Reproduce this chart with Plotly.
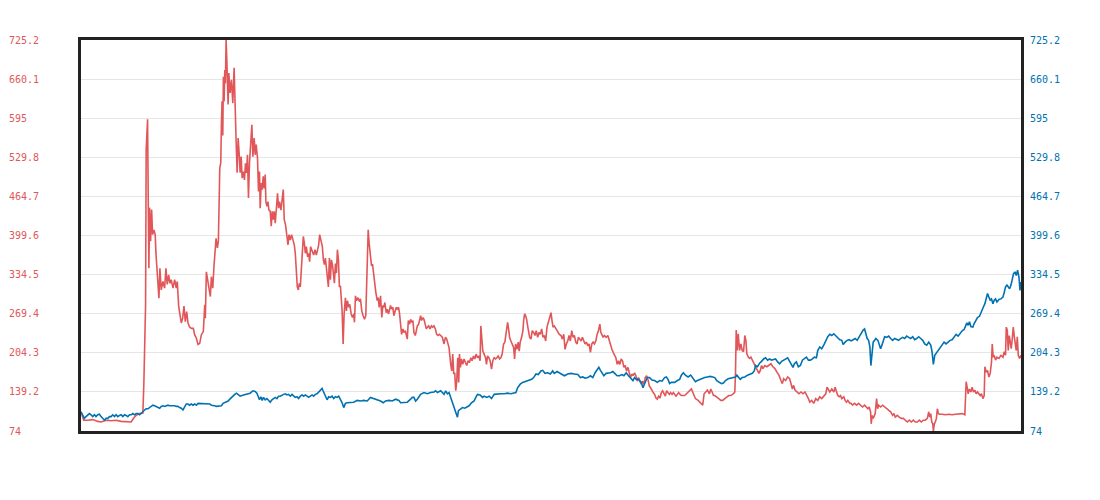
import plotly.graph_objects as go

# tick levels shared by both y axes
tick_vals = [74, 139.2, 204.3, 269.4, 334.5, 399.6, 464.7, 529.8, 595, 660.1, 725.2]
tick_text = ['74', '139.2', '204.3', '269.4', '334.5', '399.6', '464.7', '529.8', '595', '660.1', '725.2']

# red series (trading day, price)
red_day = [
    0.3, 3, 7, 12, 17, 20.3, 23.7, 27, 30.3, 35.3,
    40.3, 45.3, 50.3, 53, 55.3, 58.7, 62, 63, 64.7, 65.3,
    66.7, 67.3, 68, 68.7, 69.7, 70.7, 71.7, 73, 74.3, 75,
    76, 77, 78, 79, 80.3, 82, 83.7, 85, 86.3, 87.7,
    89, 90.3, 92, 93.7, 95.3, 96.3, 97.7, 99, 100.3, 101.7,
    103, 104.3, 105.7, 107, 108.3, 110.3, 112.3, 113.7, 115.3, 117,
    118.7, 120.3, 122.3, 123.7, 124.3, 125.3, 126.7, 128, 129.3, 130.3,
    131.7, 133, 134, 135, 136.3, 137.3, 138.7, 139.7, 140.3, 141,
    141.7, 142.3, 143, 143.7, 144.3, 145,
    145.7, 147, 147.7, 149, 150.3, 151.7, 153, 154, 155, 156,
    157, 158, 159, 160, 161, 162.3, 163.3, 164.3, 165.3, 166.3,
    167.3, 168.3, 169.7, 170.7, 171.7, 173, 174, 175, 176.3, 177.3,
    178.3, 179, 180, 181, 182, 183, 184, 184.7, 185.7, 186.7,
    187.7, 189, 190, 191, 192, 193, 194, 195, 196.3, 197.3,
    198.3, 199.7, 201, 202, 203, 204.3, 205.7, 206.7, 207.7, 209,
    210.3, 211.7, 213, 214, 215, 216, 217, 218, 219, 220,
    221, 222, 223, 224, 225, 226.3, 227.3, 228.3, 229.3, 230.3,
    231.3, 232.3, 233.7, 235, 236.3, 237.3, 238.3, 239.7, 241, 242,
    243, 244, 245, 246, 247, 248, 249, 250, 251, 252,
    253, 254, 255, 256, 257, 258,
    259, 260.7, 261.7, 262.7, 264, 265, 266, 267.3, 268.3, 269.7,
    271, 272.3, 273, 274, 275, 276.3, 277.7, 279, 280.3, 281.7,
    283, 284.3, 285.7, 286.7, 287.7, 289, 290, 291, 292.3, 293.3,
    294.3, 295.7, 296.7, 297.7, 299, 300.3, 301.3, 302.3, 303.3, 304.7,
    305.7, 307, 308, 309, 310, 311.3, 312.3, 313.3, 314.7, 315.7,
    317, 318, 319, 320, 321.3, 322.3, 323.7, 324.7, 325.7, 326.7,
    328, 329, 330.3, 331.3, 332.3, 333.7, 334.7, 335.7, 337, 338,
    339, 340, 341.3, 342.3, 343.7, 344.7, 345.7, 347, 348.3, 349.7,
    351, 352.3, 353.7, 355, 356.3, 357.7, 359, 360.7, 362.3, 363.7,
    365, 366.3, 367.3, 369, 370, 371, 372, 373, 374, 375,
    376, 377, 377.7, 378.7, 379.7, 381, 382.3, 383.7, 385, 386.3,
    387.7, 389, 390.3, 391.7, 393, 394.3, 395.7, 397, 398.3, 399,
    400, 401, 402.3, 403.7, 404.7, 405.7, 407, 408.3, 409.7, 411,
    412.3, 413.7, 415, 416.3, 417.7, 419, 420.3, 421.7, 423, 424.3,
    425.7, 426.7, 427.7, 429, 430.3, 431.7, 432.7, 433.7, 435, 436.3,
    437.3, 438.3, 439.7, 441, 441.7, 442.7, 443.7, 444.7, 445.7, 446.7,
    447.7, 449, 450.3, 451.7, 453, 454.3, 455.7, 457, 458.3, 459.7,
    461, 462.3, 463.7, 465, 466.3, 467.7, 469, 470, 471, 472.3,
    474, 475.7, 477.3, 479, 480.3, 481.7, 483, 484.3, 485.7, 487,
    488.3, 489.7, 491, 492.3, 493.7, 495, 496.3, 497.7, 499, 500.3,
    501.7, 503, 504.3, 505.7, 507, 508.3, 509.7, 511, 512.3, 513.7,
    515, 516.3, 517.7, 518.7, 519.7, 521, 522.3, 524, 525.7, 527,
    528.3, 529.7, 531, 532.3, 533.7, 535, 536.3, 537.7, 539, 540.3,
    541.7, 543, 544.3, 545.7, 547, 548.3, 549.7, 551, 552.3, 553.7,
    555, 556.3, 557.7, 559, 560.3, 561.7, 563, 564.3, 565.7, 567,
    568.3, 569.7, 571, 572.3, 573.7, 575, 576.3, 577.7, 579, 580.3,
    581.7, 583, 584.3, 585.7, 587, 588.3, 589.7, 591, 592.3, 593.7,
    595, 596.3, 597.7,
    599, 602.3, 605.7, 609, 611, 613, 615.7, 618.3, 620.3, 621.7,
    623, 625, 627, 628.3, 629.7, 631, 632.3, 634.3, 636.3, 638.3,
    640.3, 642.3, 644.3, 646.3, 648.3, 651, 652.3, 653, 653.7, 654.7,
    655.7, 657, 658.3, 659.7, 661, 662.3, 663.3, 664.3, 665.7, 667,
    668.3, 669.7, 671, 672.3, 673.7, 675, 676.3, 677.7, 679, 680.3,
    682.3, 684.3, 686.3, 688.3, 690.3, 692.3, 694.3, 696.3, 698.3, 699.7,
    701, 703, 705, 707, 708.3, 709.7, 711, 712.3, 714.3, 716.3,
    718.3, 720.3, 722.3, 724.3, 725.7, 727, 729, 731, 733, 735,
    737, 739, 741, 743, 744.3, 745.7, 747, 749, 751, 752.3,
    753.7, 755, 756.3, 757.7, 759, 761, 762.3, 763.7, 765, 767,
    768.3, 769.7, 771.7, 773.7, 775.7, 777.7, 779.7, 781.7, 783.7, 785,
    786.3, 787.7, 788.3, 789.3, 790.3, 791.3, 792.3, 793.7, 794.7, 795.7,
    797.7, 799.7, 801.7, 803.7, 805.7, 807.7, 809.7, 811, 812.3, 814.3,
    816.3, 818.3, 820.3, 822.3, 824.3, 826.3, 828.3, 830.3, 832.3, 834.3,
    836.3, 838.3, 840.3, 842.3, 844.3, 845.7, 846.7, 847.7, 848.7, 849.7,
    850.3, 851.3, 852.3, 853.3, 854.3, 855.3, 856.3, 859, 862.3, 865.7,
    869, 872.3, 875.7, 879, 881.7, 883, 884, 885, 886.3, 887.7,
    889, 890.3, 891.7, 893, 894.3, 895.7, 897, 898.3, 899.7, 901,
    901.7, 903, 904.3, 905.7, 907, 908.3, 909, 910, 911, 912.3,
    913.7, 915.7, 917.7, 919.7, 921, 922.3, 923, 924, 925, 926,
    927, 928, 929, 930, 931, 932, 933, 934, 935, 936.3,
    937.7,
]
red_price = [
    106, 92, 92, 93, 90, 89, 91, 92, 91, 92,
    90, 90, 89, 96, 100, 103, 104, 154, 284, 543,
    593, 468, 345, 446, 390, 443, 401, 409, 401, 371,
    345, 312, 295, 345, 309, 323, 312, 345, 318, 334,
    320, 326, 312, 326, 312, 323, 282, 268, 254, 262,
    282, 256, 273, 254, 248, 245, 245, 234, 229, 218,
    220, 234, 240, 284, 262, 339, 323, 306, 298, 331,
    312, 351, 368, 395, 379, 390, 512, 521, 584, 623,
    566, 664, 623, 675, 653, 725.2,
    693, 618, 670, 637, 659, 620, 679, 581, 556, 504,
    562, 537, 504, 531, 495, 506, 492, 520, 504, 534,
    462, 520, 554, 584, 531, 562, 534, 551, 529, 473,
    506, 445, 487, 476, 498, 478, 501, 456, 448, 456,
    442, 440, 415, 440, 426, 440, 420, 437, 470, 445,
    456, 442, 459, 476, 426, 417, 398, 384, 401, 392,
    401, 392, 384, 370, 348, 314, 309, 320, 314, 342,
    353, 398, 387, 370, 381, 364, 370, 356, 381, 376,
    373, 367, 376, 367, 376, 384, 401, 392, 381, 359,
    351, 362, 345, 337, 314, 362, 326, 359, 351, 337,
    320, 353, 337, 376, 359, 314,
    316, 274, 219, 269, 296, 274, 291, 280, 285, 269,
    263, 269, 255, 299, 291, 296, 291, 294, 274, 266,
    260, 266, 330, 409, 386, 358, 349, 352, 330, 322,
    305, 291, 296, 280, 299, 263, 283, 280, 288, 271,
    277, 269, 274, 283, 277, 280, 266, 274, 280, 277,
    280, 269, 244, 235, 244, 238, 241, 233, 227, 258,
    252, 260, 255, 258, 238, 233, 241, 249, 252, 260,
    266, 258, 263, 260, 249, 244, 247, 249, 244, 249,
    247, 249, 244, 235, 233, 235, 233, 230, 219, 230,
    227, 216, 213, 185, 174, 202, 169, 171, 141, 157,
    196, 155, 202, 180, 194, 185, 194, 188, 183, 191,
    188, 196, 191, 199, 194, 202, 196, 199, 191, 249,
    227, 207, 202, 196, 185, 199, 196, 191, 177, 191,
    196, 194, 196, 199, 194, 196, 202, 219, 222, 238,
    255, 244, 230, 224, 219, 213, 194, 219, 210, 222,
    207, 222, 230, 241, 258, 269, 266, 260, 249, 235,
    230, 227, 241, 238, 233, 241, 230, 238, 235, 244,
    230, 233, 224, 247, 255, 266, 271, 258, 247, 249,
    244, 238, 235, 233, 227, 235, 210, 219, 224, 233,
    224, 241, 230, 233, 222, 219, 230, 227, 224, 230,
    222, 219, 222, 216, 219, 205, 219, 222, 219, 224,
    235, 241, 252, 238, 235, 230, 233, 230, 233, 224,
    219, 210, 205, 199, 196, 185, 191, 185, 194, 191,
    180, 183, 174, 180, 171, 163, 169, 166, 171, 166,
    157, 163, 157, 152, 157, 152, 163, 166, 160, 149,
    146, 141, 138, 135, 129, 127, 132, 129, 138, 141,
    135, 132, 141, 138, 135, 138, 135, 138, 135, 132,
    135, 138, 135,
    133, 133, 139, 144, 136, 128, 125, 120, 117, 136,
    139, 142, 136, 144, 139, 133, 133, 131, 128, 125,
    125, 128, 131, 133, 133, 136, 139, 172, 242, 208,
    236, 208, 219, 208, 206, 233, 225, 203, 197, 195,
    197, 192, 189, 183, 178, 175, 170, 175, 183, 178,
    183, 181, 183, 186, 181, 178, 172, 167, 158, 153,
    161, 158, 164, 161, 153, 144, 150, 142, 139, 136,
    139, 136, 139, 133, 128, 122, 125, 120, 128, 125,
    131, 128, 133, 136, 147, 142, 139, 144, 139, 147,
    139, 133, 131, 133, 128, 131, 125, 122, 125, 120,
    120, 117, 120, 117, 120, 117, 114, 117, 114, 111,
    114, 106, 86, 100, 95, 100, 103, 128, 111, 117,
    114, 117, 114, 111, 108, 106, 100, 103, 97, 100,
    97, 95, 95, 92, 89, 92, 89, 92, 89, 89,
    92, 89, 92, 92, 95, 106, 97, 103, 89, 86,
    74, 86, 89, 95, 111, 103, 102, 102, 101, 102,
    101, 102, 102, 103, 101, 156, 147, 136, 144, 139,
    147, 139, 142, 136, 139, 136, 133, 136, 128, 133,
    181, 172, 175, 164, 170, 189, 219, 197, 200, 192,
    197, 195, 200, 197, 206, 200, 247, 242, 208, 233,
    217, 211, 228, 247, 231, 214, 208, 231, 200, 195,
    200,
]

# blue series (trading day, price)
blue_day = [
    0.3, 1.7, 3.7, 5.3, 7, 8.7, 10.3, 12, 13.7, 15.3,
    17, 18.7, 20.3, 22, 23.7, 25.3, 27, 28.7, 30.3, 32,
    33.7, 35.3, 37, 38.7, 40.3, 42, 43.7, 45.3, 47, 48.7,
    50.3, 52, 53.7, 55.3, 57, 58.7, 60.3, 62, 63.7, 65.3,
    67, 68.7, 70.3, 72, 73.7, 75.3, 77, 78.7, 80.3, 82,
    83.7, 85.3, 87, 88.7, 90.3, 92, 93.7, 95.3, 97, 98.7,
    100.3, 102, 103.7, 105.3, 107, 108.7, 110.3, 112, 113.7, 115.3,
    117, 118.7, 120.3, 122, 123.7, 125.3, 127, 128.7, 130.3, 132,
    133.7, 135.3, 137, 138.7, 140.3, 142, 143.7, 145.3, 147, 148.7,
    150.3, 152, 153.7, 155.3, 157, 158.3,
    159, 162.3, 165.7, 169, 171.7, 174, 175.7, 177.3, 178.3, 179.7,
    181, 182.3, 184, 185.7, 187.3, 189, 190.7, 192.3, 194, 195.7,
    197.3, 199, 200.7, 202.3, 204, 205.7, 207.3, 209, 210.7, 212.3,
    214, 215.7, 217.3, 219, 220.7, 222.3, 224, 225.7, 227.3, 229,
    230.7, 232.3, 234, 235.7, 237.3, 239, 240.7, 241.7, 243, 244.3,
    245.7, 247.3, 249, 250.7, 252.3, 254, 255.7, 257.3,
    259, 260.7, 262.3, 264, 265.7, 269, 272.3, 275.7, 279, 282.3,
    285.7, 289, 292.3, 295.7, 299, 301.7, 304, 307.3, 310.7, 314,
    317.3, 319, 322.3, 325.7, 329, 330.7, 332.3, 334, 335.7, 339,
    342.3, 345.7, 349, 352.3, 354, 355.7, 359, 360.7, 362.3, 364,
    365.7, 367.3, 369, 370.7, 372.3, 373.7, 374.7, 375.7, 376.7, 378.3,
    380.7, 383, 385, 387.3, 389.7, 392.3, 394, 395.7, 398.3, 400.7,
    402.3, 405, 407.3, 409.7, 412.3, 415.7, 419, 422.3, 425.7, 429,
    432.3, 434, 435.7, 438.3, 440.7, 444, 447.3, 449.7, 451.7, 454,
    456.3, 459, 460.7, 463, 465.7, 468.3, 470.7, 472.3, 475, 477.3,
    479.7, 482.3, 485.7, 489, 492.3, 495.7, 498.3, 500.7, 503, 505.7,
    508.3, 510.7, 513, 515, 516.7, 518.3, 519.7, 521.7, 524, 525.7,
    528.3, 530.7, 533, 535, 537.3, 539.7, 541.7, 544, 546.3, 549,
    550.7, 552.3, 554, 556.3, 559, 560.7, 562.3, 565, 567.3, 569.7,
    572.3, 575, 577.3, 579.7, 582.3, 584, 585.7, 587.3, 589, 592.3,
    595, 597.3,
    599, 601, 603, 605.7, 608.3, 611, 613, 615, 617.3, 619.7,
    622.3, 625, 627.7, 630.3, 632.3, 634.3, 636.3, 639, 641, 643,
    645.7, 648.3, 651, 653, 654.3, 655.7, 657.7, 659.7, 662.3, 665,
    667.7, 669.7, 671.7, 673, 675, 677, 679, 681, 683, 685,
    687, 689, 691, 693, 695, 697, 699, 701, 703, 705,
    707, 709, 710.3, 711.7, 713.7, 715.7, 717.7, 719.7, 721.7, 723.7,
    725.7, 727.7, 729.7, 731.7, 733.7, 735, 737, 739, 741, 743,
    745, 747, 749, 751, 753, 755, 757, 759, 760.3, 762.3,
    764.3, 766.3, 768.3, 770.3, 772.3, 774.3, 776.3, 778.3, 780.3, 781.7,
    783, 784.3, 785.7, 787, 788, 789, 790.3, 791.7, 793, 795,
    796.3, 797.7, 799, 800.3, 801.7, 803.7, 805.7, 807.7, 809.7, 811.7,
    813.7, 815.7, 817.7, 819.7, 821.7, 823.7, 825.7, 827.7, 829.7, 831.7,
    833.7, 835.7, 837.7, 839.7, 841.7, 843.7, 845.7, 847.7, 849, 850.3,
    851.7, 853, 855, 857, 859, 861, 863, 865, 867, 869,
    871, 873, 875, 877, 879, 881, 882.3, 883.7, 885, 886.3,
    887.7, 889.7, 891, 892.3, 894.3, 896.3, 897.7, 899, 900.3, 901.7,
    903, 904.3, 905.7, 907, 908.3, 909.7, 911, 912.3, 913.7, 915.7,
    917.7, 919.7, 921, 922.3, 923.7, 925, 926.3, 927.7, 929, 930.3,
    931.7, 933, 934.3, 935.7, 936.7, 937.7,
]
blue_price = [
    106, 101, 95, 98, 101, 103, 101, 98, 101, 98,
    101, 102, 98, 95, 92, 95, 95, 98, 98, 101,
    98, 101, 98, 100, 101, 98, 101, 100, 98, 101,
    101, 103, 101, 103, 103, 101, 103, 106, 109, 111,
    111, 113, 116, 117, 116, 115, 113, 112, 115, 116,
    115, 116, 117, 116, 116, 117, 116, 115, 115, 113,
    112, 109, 115, 119, 119, 117, 119, 117, 119, 117,
    120, 120, 119, 120, 119, 120, 119, 119, 117, 117,
    116, 115, 115, 115, 116, 120, 121, 122, 124, 127,
    130, 132, 135, 137, 134, 132,
    132, 134, 135, 137, 141, 140, 137, 131, 126, 131,
    125, 130, 126, 128, 125, 122, 126, 128, 130, 128,
    132, 132, 134, 135, 136, 134, 135, 132, 135, 132,
    130, 131, 128, 132, 134, 132, 134, 132, 130, 132,
    134, 132, 135, 136, 139, 142, 145, 141, 135, 131,
    126, 131, 130, 132, 128, 131, 130, 132,
    127, 121, 113, 120, 121, 122, 122, 125, 124, 125,
    124, 130, 128, 125, 124, 121, 124, 125, 124, 127,
    125, 121, 121, 122, 127, 130, 130, 124, 127, 135,
    138, 136, 138, 139, 141, 138, 141, 138, 135, 141,
    136, 138, 130, 124, 116, 108, 102, 97, 108, 110,
    113, 112, 114, 116, 121, 124, 130, 135, 134, 130,
    132, 130, 132, 128, 135, 136, 136, 136, 137, 136,
    138, 138, 146, 152, 155, 157, 158, 160, 163, 169,
    168, 174, 175, 170, 171, 169, 174, 170, 173, 171,
    168, 166, 169, 170, 169, 168, 163, 164, 162, 163,
    166, 163, 171, 177, 180, 175, 171, 166, 170, 170,
    171, 173, 170, 166, 166, 168, 166, 171, 166, 160,
    158, 163, 160, 160, 155, 146, 153, 163, 163, 159,
    158, 155, 158, 157, 163, 164, 160, 153, 155, 155,
    158, 160,
    167, 171, 167, 164, 167, 161, 156, 158, 160, 161,
    163, 164, 165, 164, 163, 158, 156, 153, 154, 158,
    161, 162, 162, 164, 167, 164, 160, 163, 164, 167,
    168, 170, 174, 183, 181, 187, 190, 194, 196, 192,
    194, 192, 193, 194, 189, 186, 190, 192, 194, 196,
    190, 184, 180, 186, 189, 181, 183, 192, 194, 197,
    192, 192, 194, 197, 196, 208, 214, 211, 217, 225,
    231, 235, 233, 236, 233, 230, 226, 225, 218, 222,
    225, 226, 224, 226, 228, 225, 231, 236, 242, 244,
    236, 228, 225, 214, 183, 206, 222, 225, 228, 225,
    219, 211, 217, 225, 231, 230, 232, 228, 225, 228,
    226, 225, 228, 230, 228, 232, 230, 228, 231, 226,
    228, 231, 228, 225, 219, 217, 222, 217, 206, 185,
    200, 203, 208, 214, 217, 222, 219, 222, 225, 226,
    230, 235, 232, 237, 241, 243, 248, 254, 250, 256,
    248, 247, 253, 258, 263, 265, 271, 278, 281, 286,
    294, 303, 297, 292, 294, 286, 292, 294, 289, 293,
    294, 297, 305, 314, 317, 314, 311, 317, 325, 336,
    339, 333, 342, 330, 308, 322,
]

assert len(red_day) == len(red_price), (len(red_day), len(red_price))
assert len(blue_day) == len(blue_price), (len(blue_day), len(blue_price))

red = '#e15759'
blue = '#0072b2'
mono = 'DejaVu Sans Mono'

# left labels are left-aligned in a monospace font, so pad them to 5 chars
nbsp = '\u00a0'
left_text = [t + nbsp * (5 - len(t)) for t in tick_text]

fig = go.Figure()
fig.add_trace(go.Scatter(x=red_day, y=red_price, mode='lines',
                         line=dict(color=red, width=1.6), yaxis='y'))
fig.add_trace(go.Scatter(x=blue_day, y=blue_price, mode='lines',
                         line=dict(color=blue, width=1.6), yaxis='y2'))

fig.update_layout(
    width=1100, height=500,
    margin=dict(l=73, r=87, t=32, b=77),
    paper_bgcolor='white', plot_bgcolor='white',
    showlegend=False,
    font=dict(family=mono, size=10),
    xaxis=dict(
        range=[min(red_day + blue_day), max(red_day + blue_day)],
        showgrid=False, zeroline=False, showticklabels=False, ticks='',
        showline=True, linecolor='#222', linewidth=3, mirror=True,
        automargin=False,
    ),
    yaxis=dict(
        range=[74, 725.2], tickvals=tick_vals, ticktext=left_text,
        tickfont=dict(family=mono, size=10, color=red),
        ticks='outside', ticklen=37, tickcolor='rgba(0,0,0,0)',
        showgrid=True, gridcolor='#e6e6e6', gridwidth=1, zeroline=False,
        showline=True, linecolor='#222', linewidth=3, mirror=True,
        automargin=False,
    ),
    yaxis2=dict(
        range=[74, 725.2], tickvals=tick_vals, ticktext=tick_text,
        tickfont=dict(family=mono, size=10, color=blue),
        overlaying='y', side='right',
        ticks='outside', ticklen=6, tickcolor='rgba(0,0,0,0)',
        showgrid=False, zeroline=False, showline=False,
        automargin=False,
    ),
)

fig.write_html('out.html')
